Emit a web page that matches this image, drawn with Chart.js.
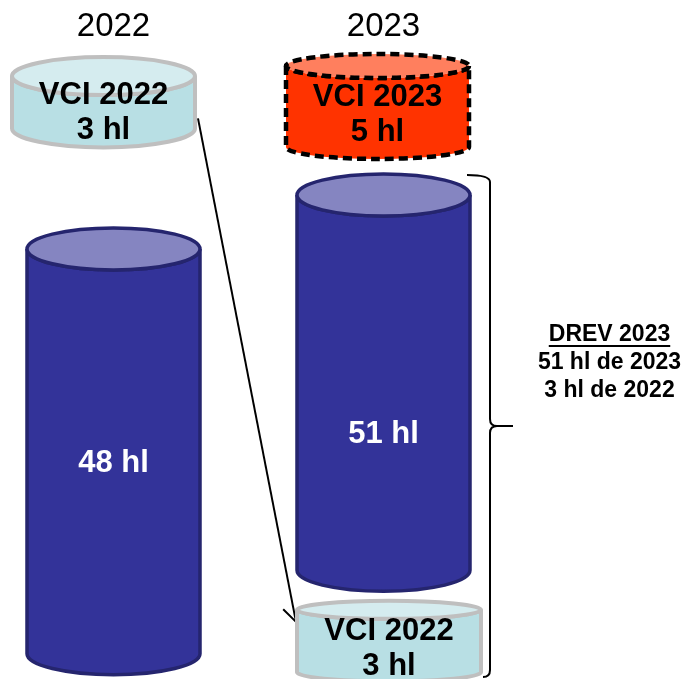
<!DOCTYPE html>
<html><head><meta charset="utf-8">
<script src="https://cdn.jsdelivr.net/npm/chart.js@4"></script>
<style>html,body{margin:0;padding:0;background:#fff}#wrap{width:687px;height:679px;position:relative}</style>
</head><body><div id="wrap"><canvas id="c"></canvas></div>
<script>
// ---- data ----
const categories = ['2022', '2023'];
const harvestVolumes = [48, 51];        // hl (blue cylinders)
const vciVolumes = [3, 5];              // VCI of the year (hl)
const carryVolumes = [null, 3];         // VCI 2022 brought into 2023
const carryYear = '2022';
// floating ranges on the (hidden) drawing axis
const harvestRanges = [[0, 48], [9.9, 54.4]];
const vciRanges = [[62.3, 68.5], [60.1, 69.7]];
const carryRanges = [null, [-2.2, 5.2]];
const drevTitle = 'DREV 2023';
const drevLines = ['51 hl de 2023', '3 hl de 2022'];

const FONT = "'Liberation Sans', Arial, Helvetica, sans-serif";

const BLUE = {body: '#333399', top: '#8585c1', stroke: '#25256e', lw: 3.5, text: '#ffffff'};
const CYAN = {body: '#b8dfe4', top: '#d5ecef', stroke: '#bfbfbf', lw: 4, text: '#000000'};
const RED = {body: '#ff3300', top: '#ff7f5e', stroke: '#000000', lw: 4.5, dash: [9, 5], text: '#000000'};

const datasets = [
  {label: 'Récolte', data: harvestRanges, barThickness: 173,
   cyl: [Object.assign({ry: 21, dx: 0, dy: 10}, BLUE), Object.assign({ry: 21, dx: 0, dy: 50}, BLUE)],
   texts: harvestVolumes.map(v => [v + ' hl'])},
  {label: 'VCI', data: vciRanges, barThickness: 183,
   cyl: [Object.assign({ry: 19, dx: -10, dy: 9}, CYAN), Object.assign({ry: 12, dx: -6, dy: 6}, RED)],
   texts: vciVolumes.map((v, i) => ['VCI ' + categories[i], v + ' hl'])},
  {label: 'VCI reporté', data: carryRanges, barThickness: 184,
   cyl: [null, Object.assign({ry: 9, dx: 5.5, dy: 6}, CYAN)],
   texts: carryVolumes.map(v => v == null ? null : ['VCI ' + carryYear, v + ' hl'])}
];
datasets.forEach(d => { d.backgroundColor = 'rgba(0,0,0,0)'; d.borderWidth = 0; });

function geom(el, st) {
  const top = Math.min(el.y, el.base), bot = Math.max(el.y, el.base);
  const cx = el.x + (st.dx || 0), rx = el.width / 2;
  return {top, bot, cx, rx, l: cx - rx, r: cx + rx, ry: st.ry};
}

function drawCyl(ctx, el, st, lines) {
  const g = geom(el, st);
  ctx.save();
  ctx.lineWidth = st.lw; ctx.strokeStyle = st.stroke; ctx.setLineDash(st.dash || []);
  ctx.beginPath();
  ctx.moveTo(g.l, g.top); ctx.lineTo(g.l, g.bot);
  ctx.ellipse(g.cx, g.bot, g.rx, g.ry, 0, Math.PI, 0, true);
  ctx.lineTo(g.r, g.top);
  ctx.ellipse(g.cx, g.top, g.rx, g.ry, 0, 0, Math.PI, false);
  ctx.closePath();
  ctx.fillStyle = st.body; ctx.fill(); ctx.stroke();
  ctx.beginPath(); ctx.ellipse(g.cx, g.top, g.rx, g.ry, 0, 0, Math.PI * 2);
  ctx.fillStyle = st.top; ctx.fill(); ctx.stroke();
  ctx.setLineDash([]);
  if (lines) {
    ctx.fillStyle = st.text; ctx.font = 'bold 31px ' + FONT;
    ctx.textAlign = 'center'; ctx.textBaseline = 'middle';
    const lh = 35, mid = (g.top + g.bot) / 2 + (st.dy || 0);
    lines.forEach((t, i) => ctx.fillText(t, g.cx, mid + (i - (lines.length - 1) / 2) * lh + 2));
  }
  ctx.restore();
}

const cylPlugin = {
  id: 'cylinders',
  beforeDatasetsDraw(chart) {
    // connector: VCI 2022 (top-left) -> VCI 2022 carried into 2023
    const ctx = chart.ctx;
    const a = chart.getDatasetMeta(1).data[0], b = chart.getDatasetMeta(2).data[1];
    const ga = geom(a, datasets[1].cyl[0]), gb = geom(b, datasets[2].cyl[1]);
    const x1 = ga.r + 3, y1 = ga.bot - 10, x2 = gb.l - 1, y2 = gb.top + 12;
    ctx.save();
    ctx.strokeStyle = '#000'; ctx.lineWidth = 2;
    ctx.beginPath(); ctx.moveTo(x1, y1); ctx.lineTo(x2, y2); ctx.stroke();
    const ang = Math.atan2(y2 - y1, x2 - x1), L = 18, w = 0.6;
    ctx.beginPath();
    ctx.moveTo(x2 - L * Math.cos(ang - w), y2 - L * Math.sin(ang - w));
    ctx.lineTo(x2, y2);
    ctx.lineTo(x2 - L * Math.cos(ang + w), y2 - L * Math.sin(ang + w));
    ctx.stroke();
    ctx.restore();
  },
  afterDatasetsDraw(chart) {
    const ctx = chart.ctx;
    chart.data.datasets.forEach((ds, di) => {
      chart.getDatasetMeta(di).data.forEach((el, i) => {
        if (ds.data[i] == null || !ds.cyl[i]) return;
        drawCyl(ctx, el, ds.cyl[i], ds.texts[i]);
      });
    });
  },
  afterDraw(chart) {
    // brace spanning the DREV 2023 (harvest 2023 + carried VCI)
    const ctx = chart.ctx;
    const h = chart.getDatasetMeta(0).data[1], c = chart.getDatasetMeta(2).data[1];
    const gh = geom(h, datasets[0].cyl[1]), gc = geom(c, datasets[2].cyl[1]);
    const x = gc.r + 9, top = gh.top - gh.ry + 1, bot = Math.min(gc.bot + 5, chart.height - 2);
    const mid = (top + bot) / 2, k = 7;
    ctx.save();
    ctx.strokeStyle = '#000'; ctx.lineWidth = 2;
    ctx.beginPath();
    ctx.moveTo(x - 23, top);
    ctx.quadraticCurveTo(x, top, x, top + k);
    ctx.lineTo(x, mid - k);
    ctx.quadraticCurveTo(x, mid, x + k, mid);
    ctx.lineTo(x + 23, mid);
    ctx.moveTo(x + k, mid);
    ctx.quadraticCurveTo(x, mid, x, mid + k);
    ctx.lineTo(x, bot - k);
    ctx.quadraticCurveTo(x, bot, x - k, bot);
    ctx.stroke();
    // DREV text
    const tx = 609.5;
    ctx.fillStyle = '#000'; ctx.font = 'bold 23px ' + FONT;
    ctx.textAlign = 'center'; ctx.textBaseline = 'middle';
    const y0 = mid - 91;
    ctx.fillText(drevTitle, tx, y0);
    const tw = ctx.measureText(drevTitle).width;
    ctx.fillRect(tx - tw / 2, y0 + 10, tw, 2);
    drevLines.forEach((t, i) => ctx.fillText(t, tx, y0 + 28 * (i + 1)));
    ctx.restore();
  }
};

new Chart(document.getElementById('c'), {
  type: 'bar',
  data: {labels: categories, datasets},
  options: {
    responsive: true, maintainAspectRatio: false, animation: false, events: [],
    layout: {padding: {left: 113.5, right: 303.5, top: 7, bottom: 0}},
    plugins: {legend: {display: false}, tooltip: {enabled: false}},
    datasets: {bar: {grouped: false}},
    scales: {
      x: {type: 'category', position: 'top', offset: false,
          grid: {display: false, drawTicks: false}, border: {display: false},
          ticks: {padding: 0, color: '#000', font: {family: FONT, size: 33}, maxRotation: 0, autoSkip: false}},
      y: {display: false, min: -3, max: 72}
    }
  },
  plugins: [cylPlugin]
});
</script>
</body></html>
